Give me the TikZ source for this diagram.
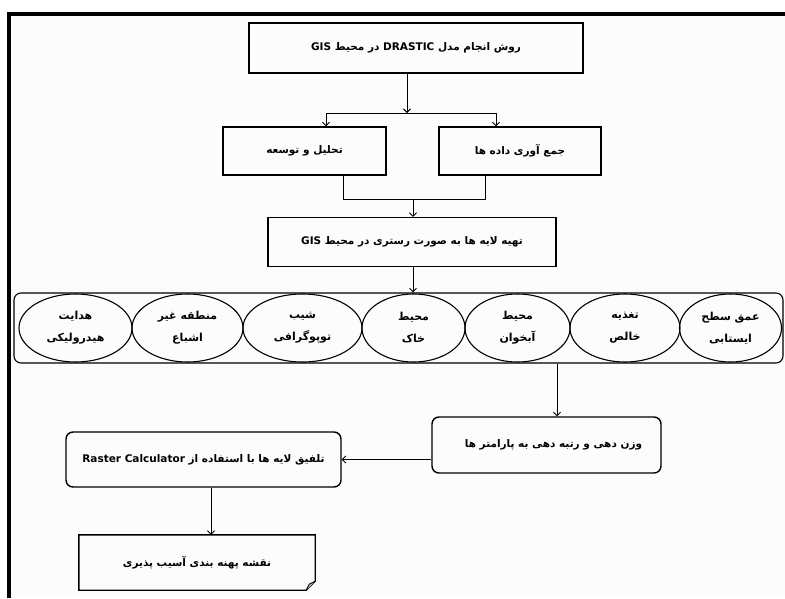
\documentclass[tikz,border=0pt]{standalone}
\usepackage{fontspec}
\newfontfamily\farsi[Script=Arabic]{DejaVu Sans}
\TeXXeTstate=1
\usetikzlibrary{arrows.meta, shapes.geometric}
\definecolor{zamine}{RGB}{252,252,252}
\newcommand{\fa}[1]{{\farsi\bfseries\beginR #1\endR}}

\begin{document}
\begin{tikzpicture}[x=1pt, y=-1pt,
        kadr/.style={
            rectangle,
            draw=black,
            line width=1.4pt,
            align=center,
            inner sep=2pt,
            font=\fontsize{10.5}{14}\selectfont
        },
        kadrgerd/.style={kadr, rounded corners=7pt},
        beyzi/.style={
            ellipse,
            draw=black,
            line width=1.1pt,
            inner sep=0pt,
            align=center,
            minimum height=68pt,
            font=\fontsize{11}{22}\selectfont
        },
        peykan/.style={-{Straight Barb[length=3.5pt, width=7pt]}, line width=0.9pt},
        khat/.style={line width=0.9pt}
    ]
        \useasboundingbox (0,0) rectangle (785,598);
        \fill[zamine] (7,12) rectangle (785,598);
        \draw[line width=4pt] (9,598) -- (9,13.5) -- (785,13.5);

        \node[kadr, minimum width=334pt, minimum height=50pt] (ravesh) at (416,48)
            {\fa{روش انجام مدل \beginL DRASTIC\endL{} در محیط \beginL GIS\endL}};

        \node[kadr, minimum width=163pt, minimum height=48pt] (tahlil) at (304.5,151)
            {\fa{تحلیل و توسعه}};
        \node[kadr, minimum width=162pt, minimum height=48pt] (jamavari) at (520,151)
            {\fa{جمع آوری داده ها}};

        \node[kadr, minimum width=288pt, minimum height=49pt] (tahiye) at (412,242)
            {\fa{تهیه لایه ها به صورت رستری در محیط \beginL GIS\endL}};

        % نوار پارامترها
        \node[draw=black, line width=1.1pt, rounded corners=7pt,
            minimum width=769pt, minimum height=70pt] (navar) at (398.5,328) {};
        \node[beyzi, minimum width=113pt] (hedayat) at (75.5,328)
            {\fa{هدایت}\\\fa{هیدرولیکی}};
        \node[beyzi, minimum width=111pt] (gheyreshba) at (187.5,328)
            {\fa{منطقه غیر}\\\fa{اشباع}};
        \node[beyzi, minimum width=119pt] (shib) at (302.5,328)
            {\fa{شیب}\\\fa{توپوگرافی}};
        \node[beyzi, minimum width=103pt] (khak) at (413.5,328)
            {\fa{محیط}\\\fa{خاک}};
        \node[beyzi, minimum width=105pt] (abkhan) at (517.5,328)
            {\fa{محیط}\\\fa{آبخوان}};
        \node[beyzi, minimum width=110pt] (taghzie) at (625,328)
            {\fa{تغذیه}\\\fa{خالص}};
        \node[beyzi, minimum width=102pt] (omgh) at (730.5,328)
            {\fa{عمق سطح}\\\fa{ایستابی}};

        \node[kadrgerd, minimum width=229pt, minimum height=56pt] (vazn) at (546.5,445)
            {\hspace*{14pt}\fa{وزن دهی و رتبه دهی به پارامتر ها}};
        \node[kadrgerd, minimum width=275pt, minimum height=55pt] (talfiq) at (203.5,459.5)
            {\fa{تلفیق لایه ها با استفاده از \beginL Raster Calculator\endL}};

        \node[align=center, font=\fontsize{10.5}{14}\selectfont,
            minimum width=236pt, minimum height=55pt] (naqshe) at (197,562.5)
            {\fa{نقشه پهنه بندی آسیب پذیری}};
        \draw[line width=1.4pt] (naqshe.north west) -- (naqshe.north east)
            -- ([yshift=9pt]naqshe.south east) -- ([xshift=-9pt]naqshe.south east)
            -- (naqshe.south west) -- cycle;
        \filldraw[fill=gray!45, line width=0.8pt] ([yshift=9pt]naqshe.south east)
            -- ([xshift=-6pt, yshift=6pt]naqshe.south east) -- ([xshift=-9pt]naqshe.south east);

        \coordinate (shakhe) at (407,113);
        \coordinate (chap) at (326,113);
        \coordinate (rast) at (496,113);
        \coordinate (payin1) at (343,199);
        \coordinate (payin2) at (485,199);
        \coordinate (vasat) at (413,199);

        \draw[peykan] (ravesh.south -| shakhe) -- (shakhe);
        \draw[khat] (chap) -- (rast);
        \draw[peykan] (chap) -- (chap |- tahlil.north);
        \draw[peykan] (rast) -- (rast |- jamavari.north);
        \draw[khat] (tahlil.south -| payin1) -- (payin1) -- (payin2) -- (jamavari.south -| payin2);
        \draw[peykan] (vasat) -- (vasat |- tahiye.north);
        \draw[peykan] (tahiye.south -| vasat) -- (vasat |- navar.north);
        \draw[peykan] ([xshift=10.5pt]vazn.north |- navar.south) -- ([xshift=10.5pt]vazn.north);
        \draw[peykan] (talfiq.east -| vazn.west) -- (talfiq.east);
        \draw[peykan] ([xshift=7.5pt]talfiq.south) -- ([xshift=7.5pt]talfiq.south |- naqshe.north);
    \end{tikzpicture}
\end{document}
